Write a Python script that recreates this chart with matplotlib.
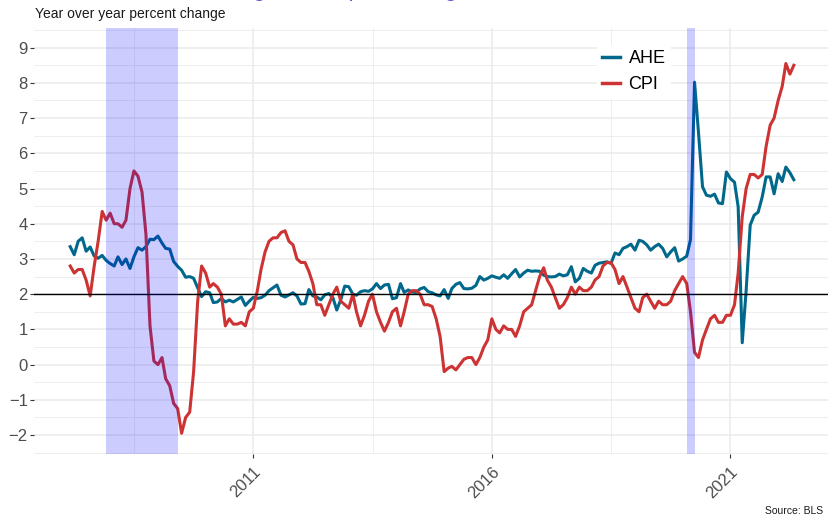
import matplotlib
matplotlib.use("Agg")
import matplotlib.pyplot as plt
import matplotlib.dates as mdates
import pandas as pd
import numpy as np

# ---------------- data ----------------
start_month = "2007-03-01"

ahe = [
    3.35, 3.12, 3.5, 3.6, 3.22, 3.34, 3.08, 3.02, 3.1, 2.96,                 # 2007 Mar-Dec
    2.87, 2.8, 3.06, 2.84, 3.0, 2.73, 3.06, 3.32, 3.25, 3.35, 3.56, 3.55,     # 2008
    3.65, 3.45, 3.3, 3.28, 2.93, 2.79, 2.68, 2.48, 2.5, 2.45, 2.18, 1.93,     # 2009
    2.07, 2.04, 1.76, 1.78, 1.88, 1.78, 1.83, 1.78, 1.85, 1.92, 1.68, 1.8,    # 2010
    1.91, 1.88, 1.9, 1.97, 2.1, 2.18, 2.26, 1.97, 1.92, 1.98, 2.04, 1.95,     # 2011
    1.72, 1.73, 2.13, 1.95, 1.92, 1.84, 1.98, 2.02, 1.9, 1.55, 1.85, 2.23,    # 2012
    2.21, 2.0, 1.97, 2.07, 2.1, 2.08, 2.15, 2.3, 2.16, 2.26, 2.28, 1.87,      # 2013
    1.9, 2.3, 2.05, 2.12, 2.06, 2.05, 2.15, 2.19, 2.07, 2.04, 1.98, 1.95,     # 2014
    2.13, 1.88, 2.16, 2.28, 2.33, 2.16, 2.15, 2.17, 2.25, 2.5, 2.4, 2.45,     # 2015
    2.52, 2.48, 2.45, 2.55, 2.45, 2.58, 2.7, 2.49, 2.6, 2.68, 2.65, 2.66,     # 2016
    2.65, 2.54, 2.5, 2.49, 2.5, 2.57, 2.52, 2.55, 2.78, 2.35, 2.45, 2.73,     # 2017
    2.65, 2.6, 2.82, 2.88, 2.9, 2.92, 2.87, 3.17, 3.12, 3.3, 3.35, 3.42,      # 2018
    3.25, 3.53, 3.5, 3.4, 3.25, 3.35, 3.42, 3.3, 3.06, 3.2, 3.32, 2.94,       # 2019
    3.0, 3.08, 3.55, 8.02, 6.6, 5.05, 4.81, 4.78, 4.84, 4.59, 4.57, 5.47,     # 2020
    5.28, 5.18, 4.48, 0.62, 2.1, 3.96, 4.24, 4.33, 4.76, 5.33, 5.33, 4.85,    # 2021
    5.42, 5.2, 5.61, 5.45, 5.25,                                              # 2022 Jan-May
]

cpi = [
    2.8, 2.6, 2.7, 2.7, 2.4, 1.95, 2.8, 3.5, 4.35, 4.1,                      # 2007 Mar-Dec
    4.3, 4.0, 4.0, 3.9, 4.1, 5.0, 5.5, 5.35, 4.9, 3.7, 1.1, 0.1,              # 2008
    0.0, 0.2, -0.4, -0.6, -1.1, -1.25, -1.95, -1.5, -1.35, -0.2, 1.8, 2.8,    # 2009
    2.6, 2.2, 2.3, 2.2, 2.0, 1.1, 1.3, 1.15, 1.15, 1.2, 1.1, 1.5,             # 2010
    1.6, 2.1, 2.7, 3.2, 3.5, 3.6, 3.6, 3.75, 3.8, 3.5, 3.4, 3.0,              # 2011
    2.9, 2.9, 2.65, 2.3, 1.7, 1.7, 1.4, 1.7, 2.0, 2.2, 1.8, 1.7,              # 2012
    1.6, 2.0, 1.5, 1.1, 1.4, 1.8, 2.0, 1.5, 1.2, 0.95, 1.2, 1.5,              # 2013
    1.6, 1.1, 1.5, 2.0, 2.1, 2.1, 2.0, 1.7, 1.7, 1.65, 1.3, 0.8,              # 2014
    -0.2, -0.1, -0.05, -0.15, 0.0, 0.15, 0.2, 0.2, 0.0, 0.2, 0.5, 0.7,        # 2015
    1.3, 1.0, 0.9, 1.1, 1.0, 1.0, 0.8, 1.1, 1.5, 1.6, 1.7, 2.1,               # 2016
    2.5, 2.75, 2.4, 2.2, 1.9, 1.6, 1.7, 1.9, 2.2, 2.0, 2.2, 2.1,              # 2017
    2.1, 2.2, 2.4, 2.5, 2.8, 2.9, 2.9, 2.7, 2.3, 2.5, 2.2, 1.9,               # 2018
    1.6, 1.5, 1.9, 2.0, 1.8, 1.6, 1.8, 1.7, 1.7, 1.8, 2.1, 2.3,               # 2019
    2.5, 2.3, 1.5, 0.35, 0.2, 0.7, 1.0, 1.3, 1.4, 1.2, 1.2, 1.4,              # 2020
    1.4, 1.7, 2.6, 4.2, 5.0, 5.4, 5.4, 5.3, 5.4, 6.2, 6.8, 7.0,               # 2021
    7.5, 7.9, 8.55, 8.25, 8.5,                                                # 2022 Jan-May
]

recession_start = ["2007-12-01", "2020-02-01"]
recession_end = ["2009-06-01", "2020-04-01"]
x_tick_years = [2011, 2016, 2021]
y_breaks = list(range(-2, 10))
target = 2
series_names = ["AHE", "CPI"]

# ---------------- style ----------------
plt.rcParams["font.family"] = ["Liberation Sans", "DejaVu Sans"]
col_ahe = "#00688B"
col_cpi = "#CD3333"
grid_col = "#EBEBEB"
text_col = "#4D4D4D"

W, H = 829, 518
fig = plt.figure(figsize=(W / 100, H / 100), dpi=100)
left_px, right_px, top_px, bottom_px = 34, 830, 28.3, 454.4
ax = fig.add_axes([left_px / W, 1 - bottom_px / H,
                   (right_px - left_px) / W, (bottom_px - top_px) / H])

dates = pd.date_range(start_month, periods=len(cpi), freq="MS")

ax.plot(dates, ahe, color=col_ahe, lw=2.2, label=series_names[0], zorder=3,
        solid_joinstyle="round")
ax.plot(dates, cpi, color=col_cpi, lw=2.2, label=series_names[1], zorder=3,
        solid_joinstyle="round")
ax.axhline(target, color="black", lw=1.0, zorder=4)

for s, e in zip(recession_start, recession_end):
    ax.axvspan(pd.Timestamp(s), pd.Timestamp(e), color="blue", alpha=0.2,
               lw=0, zorder=5)

# ticks
maj = [pd.Timestamp(f"{y}-01-01") for y in x_tick_years]
ax.set_xticks(maj)
ax.set_xticklabels([str(y) for y in x_tick_years], rotation=45, ha="right",
                   va="top", rotation_mode="anchor", color=text_col, fontsize=12)
maj_num = mdates.date2num(maj)
step = maj_num[1] - maj_num[0]
minor_x = [maj_num[0] - step / 2 + i * step for i in range(4)]
ax.set_xticks(minor_x, minor=True)

ax.set_yticks(y_breaks)
ax.set_yticklabels([str(v).replace("-", "\u2212") for v in y_breaks],
                   color=text_col, fontsize=12)
ax.set_yticks(np.arange(y_breaks[0] - 0.5, y_breaks[-1] + 1, 1.0), minor=True)

# limits (5% expansion like ggplot) -- set after ticks
d0, d1 = mdates.date2num(dates[0]), mdates.date2num(dates[-1])
pad = 0.05 * (d1 - d0)
ax.set_xlim(d0 - pad, d1 + pad)
yr = y_breaks[-1] - y_breaks[0]
ax.set_ylim(y_breaks[0] - 0.05 * yr, y_breaks[-1] + 0.05 * yr)

ax.tick_params(axis="both", which="major", length=3, width=0.8, color="#333333")
ax.tick_params(axis="y", which="major", pad=1.5)
ax.tick_params(axis="x", which="major", pad=4)
ax.tick_params(axis="both", which="minor", length=0)

ax.grid(True, which="major", color=grid_col, lw=1.1, zorder=0)
ax.grid(True, which="minor", color=grid_col, lw=0.6, zorder=0)
ax.set_axisbelow(True)
for sp in ax.spines.values():
    sp.set_visible(False)

# legend
leg = ax.legend(loc="upper left", bbox_to_anchor=(597 / W, 1 - 45 / H),
                bbox_transform=fig.transFigure, frameon=True, facecolor="white",
                edgecolor="none", framealpha=1, fontsize=13, handlelength=0.95,
                handletextpad=0.5, labelspacing=0.5, borderpad=0.3,
                borderaxespad=0)
leg.set_zorder(10)
for h in leg.get_lines():
    h.set_linewidth(2.5)

# texts
fig.text(35 / W, 1 - 18 / H, "Year over year percent change", fontsize=10,
         color="#1A1A1A", ha="left", va="baseline")
fig.text(193 / W, 1 + 3 / H, "Earnings vs. the price change", fontsize=15,
         color="#5B5BD6", ha="left", va="baseline")
fig.text(823 / W, 1 - 514 / H, "Source: BLS", fontsize=7.5, color="#1A1A1A",
         ha="right", va="baseline")

fig.savefig("out.png", dpi=100)
